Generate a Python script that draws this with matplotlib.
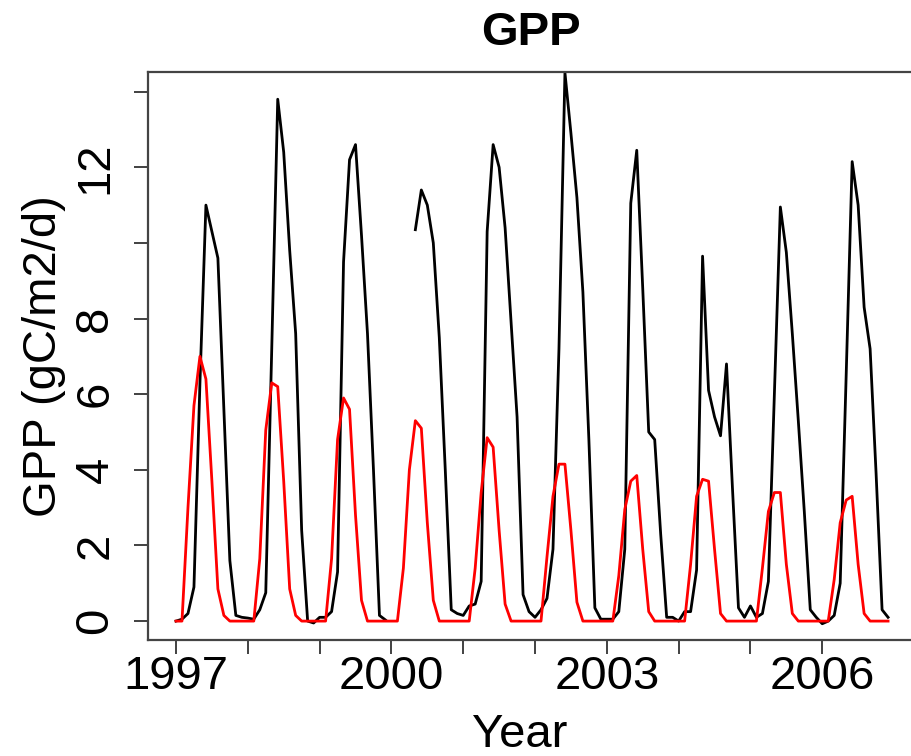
import numpy as np
import matplotlib
matplotlib.use('Agg')
import matplotlib.pyplot as plt

plt.rcParams['font.family'] = ['Liberation Sans', 'DejaVu Sans']

# monthly GPP, Jan 1997 .. Dec 2006 (gC/m2/d)
start_year = 1997
n_months = 120

# black line (tower / observed)
gpp_obs = [
    0.0, 0.05, 0.2, 0.9, 6.3, 11.0, 10.3, 9.6, 5.6, 1.6, 0.15, 0.1,        # 1997
    0.08, 0.05, 0.3, 0.75, 7.2, 13.8, 12.4, 9.8, 7.6, 2.4, 0.0, -0.05,     # 1998
    0.1, 0.1, 0.25, 1.3, 9.5, 12.2, 12.6, 10.2, 7.6, 4.0, 0.15, 0.03,      # 1999
    None, None, None, None, 10.35, 11.4, 11.0, 10.0, 7.5, 4.0, 0.3, 0.2,   # 2000
    0.15, 0.4, 0.45, 1.05, 10.3, 12.6, 12.0, 10.4, 7.9, 5.4, 0.7, 0.25,    # 2001
    0.1, 0.3, 0.6, 1.9, 7.2, 14.5, 12.9, 11.2, 8.7, 4.8, 0.35, 0.05,       # 2002
    0.05, 0.05, 0.25, 1.9, 11.05, 12.45, 8.8, 5.0, 4.8, 2.3, 0.1, 0.1,     # 2003
    0.0, 0.25, 0.25, 1.35, 9.65, 6.1, 5.4, 4.9, 6.8, 3.5, 0.35, 0.1,       # 2004
    0.4, 0.1, 0.2, 1.05, 6.0, 10.95, 9.75, 7.6, 5.3, 2.9, 0.3, 0.1,        # 2005
    -0.07, 0.0, 0.15, 1.0, 6.5, 12.15, 11.0, 8.3, 7.2, 3.9, 0.3, 0.1,      # 2006
]

# red line (model)
gpp_mod = [
    0.0, 0.0, 3.0, 5.7, 7.0, 6.4, 3.7, 0.85, 0.15, 0.0, 0.0, 0.0,          # 1997
    0.0, 0.0, 1.65, 5.05, 6.3, 6.2, 3.7, 0.85, 0.15, 0.0, 0.0, 0.0,        # 1998
    0.0, 0.0, 1.65, 4.8, 5.9, 5.6, 2.8, 0.55, 0.0, 0.0, 0.0, 0.0,          # 1999
    0.0, 0.0, 1.4, 4.0, 5.3, 5.1, 2.6, 0.55, 0.0, 0.0, 0.0, 0.0,           # 2000
    0.0, 0.0, 1.4, 3.4, 4.85, 4.6, 2.4, 0.45, 0.0, 0.0, 0.0, 0.0,          # 2001
    0.0, 0.0, 1.7, 3.3, 4.15, 4.15, 2.4, 0.5, 0.0, 0.0, 0.0, 0.0,          # 2002
    0.0, 0.0, 1.2, 2.95, 3.7, 3.85, 1.9, 0.25, 0.0, 0.0, 0.0, 0.0,         # 2003
    0.0, 0.0, 1.5, 3.3, 3.75, 3.7, 1.9, 0.2, 0.0, 0.0, 0.0, 0.0,           # 2004
    0.0, 0.0, 1.4, 2.9, 3.4, 3.4, 1.5, 0.2, 0.0, 0.0, 0.0, 0.0,            # 2005
    0.0, 0.0, 1.1, 2.6, 3.2, 3.3, 1.5, 0.2, 0.0, 0.0, 0.0, 0.0,            # 2006
]

year_ticks = list(range(1997, 2007))
year_labels = ['1997', '', '', '2000', '', '', '2003', '', '', '2006']
gpp_ticks = [0, 2, 4, 6, 8, 10, 12, 14]
gpp_labels = ['0', '2', '4', '6', '8', '', '12', '']

t = start_year + np.arange(n_months) / 12.0
obs = np.array([np.nan if v is None else v for v in gpp_obs], dtype=float)
mod = np.array(gpp_mod, dtype=float)

fig = plt.figure(figsize=(9.12, 7.56), dpi=100)
ax = fig.add_axes([148 / 912, 116 / 756, 764 / 912, 568 / 756])

ax.plot(t, obs, color='black', lw=2.0)
ax.plot(t, mod, color='#ff0000', lw=2.0)

ax.set_xlim(1996.61, 2007.25)
ax.set_ylim(-0.5, 14.52)

ax.set_xticks(year_ticks)
ax.set_xticklabels(year_labels, fontsize=34)
ax.set_yticks(gpp_ticks)
ax.set_yticklabels(gpp_labels, fontsize=34, rotation=90, va='center')
ax.tick_params(axis='both', direction='out', length=10, width=1.3, color='#333333')
ax.tick_params(axis='x', pad=1)
ax.tick_params(axis='y', pad=12)

for side in ['left', 'top', 'bottom']:
    ax.spines[side].set_color('#444444')
    ax.spines[side].set_linewidth(1.6)
ax.spines['right'].set_visible(False)

ax.set_xlabel('Year', fontsize=34, va='center')
ax.xaxis.set_label_coords(0.487, -0.168)
ax.set_ylabel('GPP (gC/m2/d)', fontsize=34, va='center')
ax.yaxis.set_label_coords(-0.136, 0.5)

fig.text(531 / 912, 1 - 33 / 756, 'GPP', fontsize=34, fontweight='bold',
         ha='center', va='center')

fig.savefig('out.png', dpi=100)
